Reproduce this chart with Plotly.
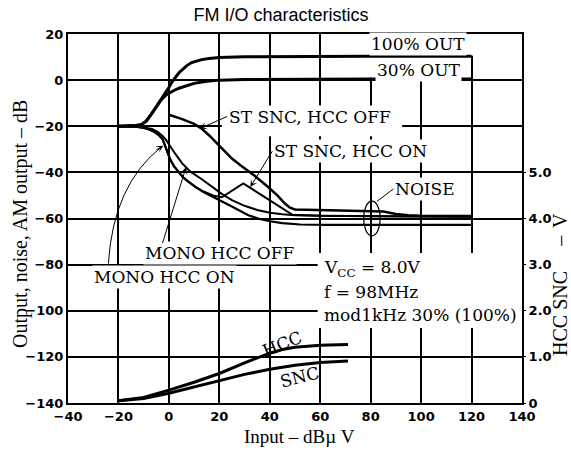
import plotly.graph_objects as go

# ---------------- data ----------------
out100_x = [-20, -15, -13, -11, -9, -7, -5, -3, -1, 0, 1, 2, 3, 4, 5, 7, 9, 11, 13, 16, 20, 30, 40, 60, 80, 100, 120]
out100_y = [-20, -20, -19.7, -19.3, -17.8, -14.8, -11.5, -8.4, -5.2, -3.2, -1.2, 0.5, 1.8, 3.2, 4.3, 6.2, 7.6, 8.4, 8.9, 9.4, 9.8, 10.1, 10.2, 10.3, 10.3, 10.3, 10.3]

out30_x = [-20, -15, -13, -11, -9, -7, -5, -3, -1, 0, 2, 4, 7, 10, 15, 20, 30, 40, 60, 80, 100, 120]
out30_y = [-20, -20, -19.7, -19.3, -17.8, -14.8, -11.5, -8.5, -6.3, -5.6, -4.5, -3.5, -2.3, -1.4, -0.5, 0, 0.3, 0.4, 0.5, 0.5, 0.5, 0.5]

st_off_x = [0, 5, 10, 13, 16, 19.5, 22, 25, 28.5, 34, 39, 43, 46, 48, 50, 60, 70, 80, 85, 90, 95, 100, 120]
st_off_y = [-15, -16.8, -19, -21, -24, -28, -31, -34, -37, -41.5, -46, -50, -53.5, -55.3, -56.1, -56.3, -56.4, -56.6, -57, -58, -58.6, -58.8, -58.9]

mono_off_x = [-20, -13, -10, -6.7, -4.5, -2.7, -1.2, -0.3, 1, 2.5, 5.2, 8.4, 13.2, 18.3, 21.1, 25, 30, 35, 40, 45, 50, 60, 80, 100, 120]
mono_off_y = [-20, -20.1, -20.5, -21.2, -22.4, -24, -25.8, -27.4, -29.6, -31.9, -36, -39.6, -43.1, -47.2, -49.4, -52, -54.5, -56.3, -57.5, -58.2, -58.6, -58.8, -59, -59.1, -59.2]

mono_on_x = [-20, -13, -10, -8, -6, -4, -2.5, -1.5, 0.5, 2, 3.7, 5.5, 7.7, 10.5, 13.7, 17, 20.3, 24, 27, 31.5, 36, 40, 45, 52, 62, 80, 100, 120]
mono_on_y = [-20, -20.2, -20.7, -21.3, -22.3, -23.8, -25.6, -28.3, -34.3, -37.3, -39.6, -42, -44, -46.3, -48.5, -50.5, -52.2, -54.3, -56, -58.6, -60.2, -61.2, -62, -62.6, -62.8, -62.8, -62.8, -62.8]

st_on_x = [-20, -13, -10, -8, -6, -4, -2.5, -1.5, 0.5, 2, 3.7, 5.5, 7.7, 10.5, 13.7, 17.5, 21, 29.5, 49, 60, 80, 100, 120]
st_on_y = [-20, -20.2, -20.7, -21.3, -22.3, -23.8, -25.6, -28.3, -34.3, -37.3, -39.6, -42, -44, -46.3, -48.3, -50, -50.8, -44.8, -58.4, -58.8, -59, -59.1, -59.2]

ctl_x = [-20, -10, 0, 10, 20, 30, 40, 45, 50, 60, 71]
hcc_v = [0.05, 0.12, 0.28, 0.45, 0.64, 0.87, 1.08, 1.16, 1.21, 1.25, 1.27]
snc_v = [0.05, 0.10, 0.21, 0.35, 0.49, 0.62, 0.73, 0.78, 0.82, 0.88, 0.91]

x_ticks = [-40, -20, 0, 20, 40, 60, 80, 100, 120, 140]
y_ticks = [20, 0, -20, -40, -60, -80, -100, -120, -140]
v_ticks = [0, 1, 2, 3, 4, 5]
v_ticktext = ["0", "1.0", "2.0", "3.0", "4.0", "5.0"]

# ---------------- figure ----------------
fig = go.Figure()

def line(x, y, w, axis="y"):
    fig.add_trace(go.Scatter(x=x, y=y, mode="lines", yaxis=axis,
                             line=dict(color="black", width=w),
                             hoverinfo="skip", showlegend=False))

line(out100_x, out100_y, 3)
line(out30_x, out30_y, 3)
line(st_off_x, st_off_y, 2.5)
line(mono_off_x, mono_off_y, 2)
line(mono_on_x, mono_on_y, 2.2)
line(st_on_x, st_on_y, 2)
line(ctl_x, hcc_v, 3, "y2")
line(ctl_x, snc_v, 3, "y2")

SERIF = "DejaVu Serif"
TIMES = "Liberation Serif"

annotations = []

def text(x, y, s, xanchor="left", angle=0, bg="white", size=17, head=None, yanchor="middle"):
    a = dict(xref="x", yref="y", text=s, xanchor=xanchor, yanchor=yanchor,
             textangle=angle, font=dict(family=SERIF, size=size, color="black"),
             bgcolor=bg, borderpad=1)
    if head is None:
        a.update(x=x, y=y, showarrow=False)
    else:
        hx, hy, style = head
        a.update(x=hx, y=hy, ax=x, ay=y, axref="x", ayref="y", showarrow=True,
                 arrowhead=style, arrowsize=1.2, arrowwidth=1, arrowcolor="black",
                 standoff=0, startstandoff=0)
    annotations.append(a)

def arrow(hx, hy, tx, ty):
    annotations.append(dict(x=hx, y=hy, xref="x", yref="y", ax=tx, ay=ty,
                            axref="x", ayref="y", text="", showarrow=True,
                            arrowhead=3, arrowsize=1.2, arrowwidth=1, arrowcolor="black",
                            standoff=0, startstandoff=0))

text(98.8, 15.6, "100% OUT", "center")
text(98.8, 4.4, "30% OUT", "center")
text(23.0, -15.8, "ST SNC, HCC OFF", head=(12.3, -21.0, 3))
text(41.0, -30.8, "ST SNC, HCC ON", head=(32.3, -46.3, 3))
text(89.0, -47.2, "NOISE", head=(82.5, -52.6, 0))
text(-10.2, -75.0, "MONO HCC OFF")
text(-30.5, -85.2, "MONO HCC ON")
text(60.8, -81.5, "V<sub>CC</sub> = 8.0V", bg="rgba(0,0,0,0)")
text(60.8, -91.9, "f = 98MHz", bg="rgba(0,0,0,0)")
text(60.8, -101.9, "mod1kHz 30% (100%)", bg="rgba(0,0,0,0)")
text(44.9, -114.6, "HCC", "center", angle=-22, bg="rgba(0,0,0,0)")
text(52.0, -128.7, "SNC", "center", angle=-14, bg="rgba(0,0,0,0)")

arrow(6.8, -37.8, -2.7, -71.3)      # MONO HCC OFF leader
arrow(-2.2, -28.5, -5.5, -30.6)     # head of the curved MONO HCC ON leader

# axis titles
def paper_text(x, y, s, angle=0, size=20):
    annotations.append(dict(x=x, y=y, xref="paper", yref="paper", showarrow=False,
                            text=s, textangle=angle, xanchor="center", yanchor="middle",
                            font=dict(family=TIMES, size=size, color="black")))

paper_text(-0.106, 0.485, "Output, noise, AM output \u2013 dB", angle=-90)
paper_text(0.51, -0.092, "Input \u2013 dB\u00b5 V", size=19)
paper_text(1.0837, 0.244, "HCC SNC", angle=-90)
paper_text(1.0837, 0.44, "\u2013", angle=-90)
paper_text(1.0837, 0.496, "V", angle=-90)

shapes = [
    # white masks hiding grid lines behind labels
    dict(type="rect", xref="x", yref="y", x0=78, x1=118, y0=1.0, y1=20, layer="between",
         fillcolor="white", line=dict(width=0)),
    dict(type="rect", xref="x", yref="y", x0=118, x1=122, y0=10.6, y1=20, layer="between",
         fillcolor="white", line=dict(width=0)),
    dict(type="rect", xref="x", yref="y", x0=21, x1=92.5, y0=-24.3, y1=-12.5, layer="between",
         fillcolor="white", line=dict(width=0)),
    dict(type="rect", xref="x", yref="y", x0=59, x1=140, y0=-107.5, y1=-75, layer="between",
         fillcolor="white", line=dict(width=0)),
    # NOISE ellipse
    dict(type="circle", xref="x", yref="y", x0=77.2, x1=83.8, y0=-67.5, y1=-52.5,
         line=dict(color="black", width=1.3), layer="above"),
    # curved leader for MONO HCC ON
    dict(type="path", xref="x", yref="y", path="M -24.0,-79.6 Q -22.1,-45.5 -3.0,-29.0",
         line=dict(color="black", width=1), layer="above"),
]

tickfont = dict(family="DejaVu Sans", size=13, color="black", weight="bold")

fig.update_layout(
    width=571, height=452,
    margin=dict(l=68, r=49, t=34, b=49),
    paper_bgcolor="white", plot_bgcolor="white",
    showlegend=False,
    title=dict(text="FM I/O characteristics", x=0.469, xref="paper", xanchor="center",
               y=0.967, yanchor="middle",
               font=dict(family="Liberation Sans", size=18, color="black")),
    xaxis=dict(range=[-40, 140], tickvals=x_ticks, showgrid=True, gridcolor="black",
               gridwidth=1.5, zeroline=False, showline=True, linecolor="black",
               linewidth=2, mirror=True, ticks="", tickfont=tickfont, automargin=False),
    yaxis=dict(range=[-140, 20], tickvals=y_ticks, showgrid=True, gridcolor="black",
               gridwidth=1.5, zeroline=False, showline=True, linecolor="black",
               linewidth=2, mirror=True, ticks="", tickfont=tickfont, automargin=False),
    yaxis2=dict(range=[0, 8], overlaying="y", side="right", tickvals=v_ticks,
                ticktext=v_ticktext, showgrid=False, zeroline=False, showline=False,
                ticks="outside", ticklen=3, tickcolor="black", tickfont=tickfont,
                automargin=False),
    annotations=annotations,
    shapes=shapes,
)

fig.write_html("out.html",
               config={"displayModeBar": False},
               post_script="document.body.style.margin='0';document.body.style.overflow='hidden';")
